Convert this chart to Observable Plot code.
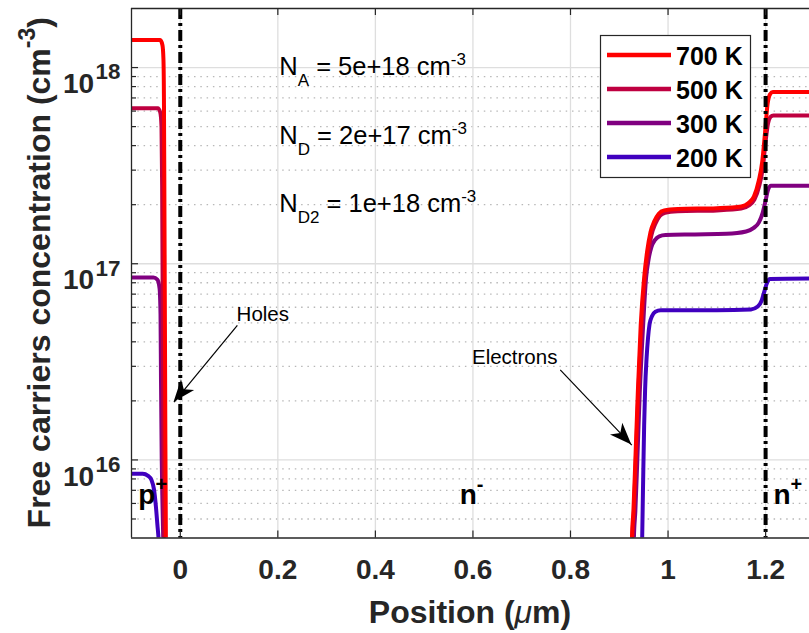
<!DOCTYPE html>
<html><head><meta charset="utf-8">
<script src="https://cdn.jsdelivr.net/npm/d3@7"></script>
<script src="https://cdn.jsdelivr.net/npm/@observablehq/plot@0.6"></script>
<style>body{margin:0;background:#fff} svg{display:block}</style>
</head><body><div id="chart"></div>
<script>
// ---------- data ----------
const temps = ["700 K", "500 K", "300 K", "200 K"];
const tempColors = ["#ff0000", "#bf0040", "#800080", "#4000bf"];

// holes in p+ region [position µm, concentration cm^-3]
const holes700 = [[-0.1,1.38e18],[-0.041,1.38e18],[-0.0365,1.3e18],[-0.0345,1.1e18],[-0.0335,7e17],[-0.0325,2e17],[-0.0315,5e16],[-0.0305,1.2e16],[-0.0295,4e15],[-0.0285,1.5e15]];
const holes500 = [[-0.1,6.2e17],[-0.046,6.2e17],[-0.041,5.9e17],[-0.0385,5e17],[-0.0372,2.5e17],[-0.036,6e16],[-0.0345,1.2e16],[-0.033,4e15],[-0.032,1.5e15]];
const holes300 = [[-0.1,8.5e16],[-0.055,8.5e16],[-0.047,8.3e16],[-0.0425,7.5e16],[-0.0405,5.5e16],[-0.0395,2.5e16],[-0.038,1e16],[-0.0365,6e15],[-0.035,4e15],[-0.033,1.5e15]];
const holes200 = [[-0.1,8.5e15],[-0.077,8.5e15],[-0.066,8.3e15],[-0.059,7.9e15],[-0.054,7.1e15],[-0.05,5.8e15],[-0.047,4.7e15],[-0.044,3.8e15],[-0.041,2.6e15],[-0.039,1e15]];

// electrons in n- / n+ regions
const elec700 = [[0.924,1.5e15],[0.926,4e15],[0.929,5.5e15],[0.933,1e16],[0.938,2.2e16],[0.944,4.9e16],[0.951,8.5e16],[0.957,1.15e17],[0.964,1.45e17],[0.972,1.65e17],[0.981,1.8e17],[0.992,1.87e17],[1.02,1.9e17],[1.1,1.92e17],[1.15,1.96e17],[1.165,2.04e17],[1.176,2.2e17],[1.186,2.65e17],[1.193,3.3e17],[1.199,4.7e17],[1.204,6.5e17],[1.209,7.3e17],[1.215,7.5e17],[1.29,7.5e17]];
const elec500 = [[0.925,1.5e15],[0.927,4e15],[0.930,5.5e15],[0.934,1e16],[0.939,2.2e16],[0.946,4.9e16],[0.953,8.5e16],[0.959,1.12e17],[0.966,1.4e17],[0.974,1.6e17],[0.983,1.75e17],[0.994,1.82e17],[1.02,1.85e17],[1.1,1.87e17],[1.15,1.91e17],[1.165,1.98e17],[1.177,2.12e17],[1.187,2.5e17],[1.194,3.05e17],[1.2,4.2e17],[1.205,5.2e17],[1.21,5.6e17],[1.216,5.7e17],[1.29,5.7e17]];
const elec300 = [[0.928,1.5e15],[0.930,4e15],[0.933,5.5e15],[0.937,1e16],[0.942,2.2e16],[0.949,4.9e16],[0.955,8.5e16],[0.960,1.05e17],[0.966,1.22e17],[0.973,1.32e17],[0.982,1.38e17],[0.995,1.4e17],[1.05,1.41e17],[1.12,1.42e17],[1.16,1.46e17],[1.175,1.52e17],[1.186,1.62e17],[1.194,1.82e17],[1.2,2.1e17],[1.205,2.38e17],[1.211,2.5e17],[1.29,2.5e17]];
const elec200 = [[0.945,1.5e15],[0.947,4e15],[0.949,8e15],[0.951,1.5e16],[0.953,2.3e16],[0.956,3.3e16],[0.959,4.2e16],[0.962,4.9e16],[0.967,5.4e16],[0.974,5.7e16],[0.985,5.8e16],[1.1,5.8e16],[1.17,5.85e16],[1.184,6.05e16],[1.192,6.5e16],[1.198,7.3e16],[1.203,8e16],[1.209,8.35e16],[1.29,8.4e16]];

// axes
const xDomain = [-0.1, 1.29];
const yDomain = [4e15, 2e18];
const xTicks = [0, 0.2, 0.4, 0.6, 0.8, 1, 1.2];
const xTickLabels = ["0", "0.2", "0.4", "0.6", "0.8", "1", "1.2"];
const yMajor = [1e16, 1e17, 1e18];
const yTickExponents = ["16", "17", "18"];
const yMinor = [5e15,6e15,7e15,8e15,9e15, 2e16,3e16,4e16,5e16,6e16,7e16,8e16,9e16, 2e17,3e17,4e17,5e17,6e17,7e17,8e17,9e17];
const junctions = [0, 1.2];

// annotations
const dopingLabels = [
  {x: 0.204, y: 9.1e17, main: "N", sub: "A", rest: " = 5e+18 cm", sup: "-3"},
  {x: 0.204, y: 4.05e17, main: "N", sub: "D", rest: " = 2e+17 cm", sup: "-3"},
  {x: 0.204, y: 1.82e17, main: "N", sub: "D2", rest: " = 1e+18 cm", sup: "-3"}
];
const arrowNotes = [
  {text: "Holes", tx: 0.1155, ty: 5.08e16, x1: 0.117, y1: 4.85e16, x2: -0.0127, y2: 1.97e16},
  {text: "Electrons", tx: 0.598, ty: 3.1e16, x1: 0.779, y1: 2.88e16, x2: 0.9257, y2: 1.19e16}
];
const regionLabels = [
  {x: -0.085, y: 5.9e15, base: "p", sup: "+"},
  {x: 0.574, y: 5.9e15, base: "n", sup: "-"},
  {x: 1.217, y: 5.9e15, base: "n", sup: "+"}
];

// ---------- build table ----------
const holesByTemp = {"700 K": holes700, "500 K": holes500, "300 K": holes300, "200 K": holes200};
const elecByTemp = {"700 K": elec700, "500 K": elec500, "300 K": elec300, "200 K": elec200};
const rows = [];
["200 K", "300 K", "500 K", "700 K"].forEach(t => {
  const color = tempColors[temps.indexOf(t)];
  holesByTemp[t].forEach(([x, y]) => rows.push({x, y, z: t + " h", color}));
  elecByTemp[t].forEach(([x, y]) => rows.push({x, y, z: t + " e", color}));
});

const W = 809, H = 633, mL = 131, mR = 0, mT = 8, mB = 95.5;
const plotW = W - mL - mR, plotH = H - mT - mB;
const FONT = "'Liberation Sans', Arial, Helvetica, sans-serif";
const AX = "#262626";

const plot = Plot.plot({
  width: W, height: H,
  marginLeft: mL, marginRight: mR, marginTop: mT, marginBottom: mB,
  style: {fontFamily: FONT, background: "#fff", color: AX, overflow: "visible"},
  x: {domain: xDomain},
  y: {type: "log", domain: yDomain},
  color: {type: "identity"},
  marks: [
    Plot.ruleY(yMinor, {stroke: "#b8b8b8", strokeWidth: 1.3, strokeDasharray: "1.5,4.8"}),
    Plot.ruleX(xTicks, {stroke: "#dedede", strokeWidth: 1.3}),
    Plot.ruleY(yMajor, {stroke: "#dedede", strokeWidth: 1.3}),
    Plot.line(rows, {x: "x", y: "y", z: "z", stroke: "color", strokeWidth: 4, curve: "monotone-x", clip: true, strokeLinejoin: "round"}),
    Plot.ruleX(junctions, {stroke: "black", strokeWidth: 4, strokeDasharray: "11,4,3,4"}),
    Plot.link(arrowNotes, {x1: "x1", y1: "y1", x2: "x2", y2: "y2", stroke: "black", strokeWidth: 1.2}),
    Plot.text(arrowNotes, {x: "tx", y: "ty", text: "text", textAnchor: "start", lineAnchor: "bottom", fontSize: 20.5, fill: "black"}),
    // inward ticks
    Plot.tickX(xTicks, {x: d => d, insetTop: plotH - 7, stroke: AX, strokeWidth: 1.2}),
    Plot.tickX(xTicks, {x: d => d, insetBottom: plotH - 7, stroke: AX, strokeWidth: 1.2}),
    Plot.tickY(yMajor, {y: d => d, insetRight: plotW - 7, stroke: AX, strokeWidth: 1.2}),
    Plot.tickY(yMinor, {y: d => d, insetRight: plotW - 5, stroke: AX, strokeWidth: 1.2}),
    // box (left, top, bottom)
    Plot.ruleX([xDomain[0]], {stroke: AX, strokeWidth: 1.3}),
    Plot.ruleY(yDomain, {stroke: AX, strokeWidth: 1.3}),
    Plot.axisX(xTicks, {tickSize: 0, tickPadding: 21, fontSize: 28, fontWeight: "bold", fill: AX, label: null, tickFormat: d => xTickLabels[xTicks.indexOf(d)]}),
    Plot.axisY(yMajor, {tickSize: 0, tickPadding: 11, fontSize: 28, fontWeight: "bold", fill: AX, label: null, tickFormat: d => "10^" + yTickExponents[yMajor.indexOf(d)]})
  ]
});

document.getElementById("chart").appendChild(plot);

// ---------- post-processing: rich text, arrowheads, legend ----------
const svg = d3.select(plot);
const sx = plot.scale("x"), sy = plot.scale("y");

// y tick labels with superscripts
svg.selectAll('g[aria-label="y-axis tick label"] text').each(function() {
  const t = d3.select(this);
  const s = t.text();
  const exp = s.split("^")[1];
  t.text(null).attr("dy", "0.6em");
  t.append("tspan").text("10");
  t.append("tspan").attr("dx", 1.5).attr("dy", -14).attr("font-size", "0.8em").text(exp);
});

const g = svg.append("g").attr("font-family", FONT).attr("text-anchor", "start");

// arrowheads
arrowNotes.forEach(a => {
  const x1 = sx.apply(a.x1), y1 = sy.apply(a.y1), x2 = sx.apply(a.x2), y2 = sy.apply(a.y2);
  const dx = x2 - x1, dy = y2 - y1, len = Math.hypot(dx, dy);
  const ux = dx / len, uy = dy / len, nx = -uy, ny = ux;
  const L = 22, w = 8.5, notch = 16;
  const p = [
    [x2, y2],
    [x2 - L * ux + w * nx, y2 - L * uy + w * ny],
    [x2 - notch * ux, y2 - notch * uy],
    [x2 - L * ux - w * nx, y2 - L * uy - w * ny]
  ];
  g.append("path").attr("d", "M" + p.map(q => q.join(",")).join("L") + "Z").attr("fill", "black");
});

// doping annotations
dopingLabels.forEach(d => {
  const t = g.append("text").attr("x", sx.apply(d.x)).attr("y", sy.apply(d.y)).attr("font-size", 25.5).attr("fill", "black");
  t.append("tspan").text(d.main);
  t.append("tspan").attr("dy", 11).attr("font-size", 17).text(d.sub);
  t.append("tspan").attr("dy", -11).text(d.rest);
  t.append("tspan").attr("dy", -10).attr("font-size", 17).text(d.sup);
});

// region labels
regionLabels.forEach(d => {
  const t = g.append("text").attr("x", sx.apply(d.x)).attr("y", sy.apply(d.y)).attr("font-size", 28).attr("font-weight", "bold").attr("fill", "black");
  t.append("tspan").text(d.base);
  t.append("tspan").attr("dy", -13).attr("font-size", 20).text(d.sup);
});

// axis titles
const xl = g.append("text").attr("x", mL + plotW / 2).attr("y", 622.5).attr("text-anchor", "middle")
  .attr("font-size", 32).attr("font-weight", "bold").attr("fill", AX);
xl.append("tspan").text("Position (");
xl.append("tspan").attr("font-style", "italic").attr("font-weight", "normal").text("\u03bc");
xl.append("tspan").text("m)");

const yl = g.append("text").attr("transform", `translate(50,${mT + plotH / 2}) rotate(-90)`).attr("text-anchor", "middle")
  .attr("font-size", 32).attr("font-weight", "bold").attr("fill", AX);
yl.append("tspan").text("Free carriers concentration (cm");
yl.append("tspan").attr("dy", -15).attr("font-size", 23).text("-3");
yl.append("tspan").attr("dy", 15).text(")");

// legend
const lg = g.append("g");
lg.append("rect").attr("x", 600.5).attr("y", 35.5).attr("width", 150).attr("height", 142)
  .attr("fill", "white").attr("stroke", AX).attr("stroke-width", 1.2);
temps.forEach((t, i) => {
  const yy = 55 + i * 34;
  lg.append("line").attr("x1", 607).attr("x2", 671).attr("y1", yy).attr("y2", yy)
    .attr("stroke", tempColors[i]).attr("stroke-width", 4.5);
  lg.append("text").attr("x", 676).attr("y", yy + 10).attr("font-size", 25).attr("font-weight", "bold")
    .attr("fill", "black").text(t);
});
</script>
</body></html>
